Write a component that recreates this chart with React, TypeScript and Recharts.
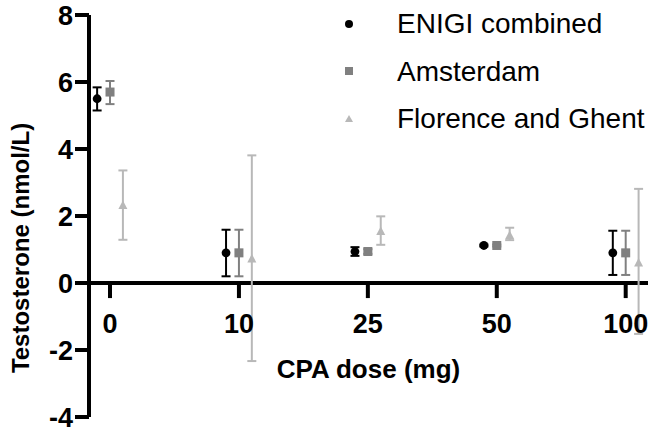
import React from 'react'
import {
  ScatterChart, Scatter, XAxis, YAxis, ErrorBar, ReferenceLine, Legend,
} from 'recharts'

// CPA dose groups (categorical, evenly spaced)
const DOSES = ['0', '10', '25', '50', '100']
const Y_TICKS = [-4, -2, 0, 2, 4, 6, 8]

// Testosterone (nmol/L), mean with lower/upper bound of error bar
const ENIGI_MEAN = [5.5, 0.9, 0.94, 1.12, 0.9]
const ENIGI_LOW = [5.15, 0.2, 0.81, 1.09, 0.24]
const ENIGI_HIGH = [5.84, 1.59, 1.07, 1.15, 1.56]

const AMS_MEAN = [5.7, 0.9, 0.94, 1.12, 0.9]
const AMS_LOW = [5.34, 0.2, 0.87, 1.09, 0.24]
const AMS_HIGH = [6.03, 1.59, 1.01, 1.15, 1.56]

const FG_MEAN = [2.31, 0.72, 1.54, 1.42, 0.6]
const FG_LOW = [1.29, -2.33, 1.14, 1.28, -1.52]
const FG_HIGH = [3.36, 3.81, 1.99, 1.65, 2.81]

const FONT = '"Liberation Sans", Arial, Helvetica, sans-serif'
const C_ENIGI = '#000000'
const C_AMS = '#808080'
const C_FG = '#b8b8b8'
const SHIFT = 0.1

function rows(mean: number[], low: number[], high: number[], shift: number) {
  return mean.map((m, i) => ({ x: i + shift, y: m, err: [m - low[i], high[i] - m] }))
}

const enigi = rows(ENIGI_MEAN, ENIGI_LOW, ENIGI_HIGH, -SHIFT)
const ams = rows(AMS_MEAN, AMS_LOW, AMS_HIGH, 0)
const fg = rows(FG_MEAN, FG_LOW, FG_HIGH, SHIFT)

const Dot = (p: any) => <circle cx={p.cx} cy={p.cy} r={4.4} fill={C_ENIGI} />
const Sq = (p: any) => <rect x={p.cx - 4.5} y={p.cy - 4.5} width={9} height={9} fill={C_AMS} />
const Tri = (p: any) => (
  <path d={`M${p.cx},${p.cy - 5} L${p.cx + 4.5},${p.cy + 3.5} L${p.cx - 4.5},${p.cy + 3.5} Z`} fill={C_FG} />
)

const LEGEND = [
  { name: 'ENIGI combined', marker: <circle cx={9} cy={9} r={4} fill={C_ENIGI} /> },
  { name: 'Amsterdam', marker: <rect x={5} y={5} width={8} height={8} fill={C_AMS} /> },
  { name: 'Florence and Ghent', marker: <path d="M9,5 L13,12 L5,12 Z" fill={C_FG} /> },
]

function renderLegend() {
  return (
    <div style={{ fontFamily: FONT, fontSize: 28, color: '#000' }}>
      {LEGEND.map((l) => (
        <div key={l.name} style={{ display: 'flex', alignItems: 'center', height: 47.5, whiteSpace: 'nowrap' }}>
          <svg width={18} height={18} style={{ flex: 'none' }}>{l.marker}</svg>
          <span style={{ marginLeft: 39, lineHeight: '47.5px' }}>{l.name}</span>
        </div>
      ))}
    </div>
  )
}

const yLabel = (props: any) => {
  const vb = props.viewBox
  const cx = vb.x + 20
  const cy = vb.y + vb.height / 2 + 32
  return (
    <text
      x={cx} y={cy} transform={`rotate(-90 ${cx} ${cy})`}
      textAnchor="middle" dominantBaseline="central"
      style={{ fontFamily: FONT, fontSize: 24, fontWeight: 'bold', fill: '#000' }}
    >
      Testosterone (nmol/L)
    </text>
  )
}

export default function App() {
  const tickStyle = { fontFamily: FONT, fontSize: 27, fontWeight: 'bold', fill: '#000' }
  return (
    <div style={{ width: 650, height: 439, background: '#fff', position: 'relative' }}>
      <style>{'body{margin:0}'}</style>
      <ScatterChart width={650} height={439} margin={{ top: 15, right: 2, bottom: 22, left: 0 }}>
        <XAxis type="number" dataKey="x" domain={[-0.163, 4.173]} hide />
        <YAxis
          type="number" dataKey="y" domain={[-4, 8]} ticks={Y_TICKS} width={89}
          axisLine={{ stroke: '#000', strokeWidth: 4 }}
          tickLine={{ stroke: '#000', strokeWidth: 4 }}
          tickSize={14} tickMargin={2} tick={tickStyle}
          label={yLabel}
        />
        <ReferenceLine
          y={0} stroke="#000" strokeWidth={4}
          label={{ value: 'CPA dose (mg)', position: 'bottom', offset: 77, style: { ...tickStyle, fontSize: 26 } }}
        />
        {DOSES.map((d, i) => (
          <ReferenceLine
            key={d}
            segment={[{ x: i, y: 0 }, { x: i, y: -0.45 }]}
            stroke="#000" strokeWidth={4}
            label={{ value: d, position: 'bottom', offset: 16, style: tickStyle }}
          />
        ))}
        <Legend
          content={renderLegend} layout="horizontal" verticalAlign="middle" align="center"
          wrapperStyle={{ position: 'absolute', top: 0, left: 340, width: 310 }}
        />
        <Scatter name="ENIGI combined" data={enigi} shape={Dot} isAnimationActive={false}>
          <ErrorBar dataKey="err" direction="y" width={4.5} stroke={C_ENIGI} strokeWidth={2} isAnimationActive={false} />
        </Scatter>
        <Scatter name="Amsterdam" data={ams} shape={Sq} isAnimationActive={false}>
          <ErrorBar dataKey="err" direction="y" width={4.5} stroke={C_AMS} strokeWidth={2} isAnimationActive={false} />
        </Scatter>
        <Scatter name="Florence and Ghent" data={fg} shape={Tri} isAnimationActive={false}>
          <ErrorBar dataKey="err" direction="y" width={4.5} stroke={C_FG} strokeWidth={2} isAnimationActive={false} />
        </Scatter>
      </ScatterChart>
    </div>
  )
}
